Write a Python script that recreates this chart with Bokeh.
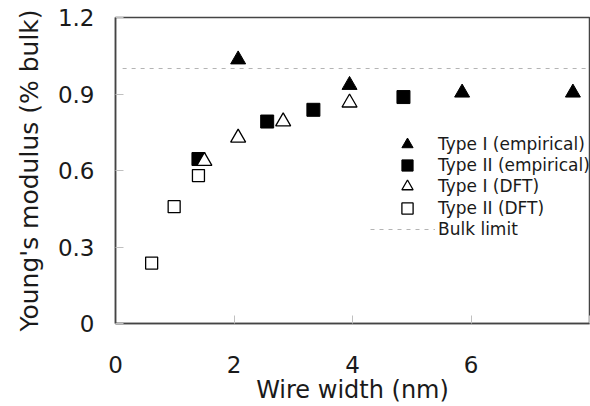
from bokeh.plotting import figure
from bokeh.models import Legend, LegendItem, Range1d, FixedTicker, Label
from bokeh.embed import file_html
from bokeh.resources import INLINE

# ---- data ----
type1_emp_x = [2.07, 3.95, 5.85, 7.72]
type1_emp_y = [1.035, 0.935, 0.905, 0.905]

type2_emp_x = [1.40, 2.56, 3.34, 4.86]
type2_emp_y = [0.645, 0.792, 0.838, 0.888]

type1_dft_x = [1.50, 2.07, 2.83, 3.95]
type1_dft_y = [0.637, 0.728, 0.792, 0.866]

type2_dft_x = [0.61, 0.99, 1.40]
type2_dft_y = [0.237, 0.458, 0.580]

bulk_limit = 1.0

x_ticks = [0, 2, 4, 6, 8]
y_ticks = [0, 0.3, 0.6, 0.9, 1.2]
y_tick_labels = {0: "0", 0.3: "0.3", 0.6: "0.6", 0.9: "0.9", 1.2: "1.2"}
X_MIN, X_MAX = 0, 8
Y_MIN, Y_MAX = 0, 1.2

FONT = "DejaVu Sans"
TEXT_COLOR = "#1a1a1a"
TICK_FONT_SIZE = "23px"
X_LABEL_STANDOFF = 32

p = figure(width=590, height=406, output_backend="svg", toolbar_location=None,
           x_range=Range1d(X_MIN, X_MAX), y_range=Range1d(Y_MIN, Y_MAX),
           min_border_left=115, min_border_right=1, min_border_top=17, min_border_bottom=81)

p.xgrid.visible = False
p.ygrid.visible = False
p.outline_line_color = "#444444"
p.outline_line_width = 1.5
p.background_fill_color = "white"
p.border_fill_color = "white"

bulk = p.line(x=[X_MIN + 0.12, X_MAX], y=[bulk_limit, bulk_limit], line_color="#b4b4b4",
              line_width=1, line_dash="4 5")

r1 = p.scatter(type1_emp_x, type1_emp_y, marker="triangle", size=15,
               fill_color="black", line_color="black")
r2 = p.scatter(type2_emp_x, type2_emp_y, marker="square", size=13,
               fill_color="black", line_color="black")
r3 = p.scatter(type1_dft_x, type1_dft_y, marker="triangle", size=15,
               fill_color="white", line_color="black", line_width=1.3)
r4 = p.scatter(type2_dft_x, type2_dft_y, marker="square", size=12,
               fill_color="white", line_color="black", line_width=1.3)

for ax in (p.xaxis[0], p.yaxis[0]):
    ax.axis_line_color = "#444444"
    ax.axis_line_width = 1.5
    ax.major_tick_in = 8
    ax.major_tick_out = 0
    ax.major_tick_line_color = "#c0c0c0"
    ax.minor_tick_line_color = None
    ax.major_label_text_font = FONT
    ax.major_label_text_font_size = TICK_FONT_SIZE
    ax.major_label_text_color = TEXT_COLOR
    ax.axis_label_text_font = FONT
    ax.axis_label_text_font_style = "normal"
    ax.axis_label_text_color = TEXT_COLOR

p.xaxis.axis_label_text_font_size = "24px"
p.yaxis.axis_label_text_font_size = "25px"
p.xaxis.ticker = FixedTicker(ticks=x_ticks)
p.yaxis.ticker = FixedTicker(ticks=y_ticks)
p.yaxis.major_label_overrides = y_tick_labels
# the last x tick label sits on the right edge (cut by the window, as in the reference);
# draw it as a free label so the layout does not shrink the frame for its overhang
p.xaxis.major_label_overrides = {x_ticks[-1]: ""}
p.add_layout(Label(x=x_ticks[-1], y=Y_MIN, x_units="data", y_units="data",
                   text=str(x_ticks[-1]), text_align="center", text_baseline="top",
                   y_offset=-X_LABEL_STANDOFF, text_font=FONT,
                   text_font_size=TICK_FONT_SIZE, text_color=TEXT_COLOR))
p.xaxis.axis_label = "Wire width (nm)"
p.yaxis.axis_label = "Young's modulus (% bulk)"
p.xaxis.major_label_standoff = X_LABEL_STANDOFF
p.xaxis.axis_label_standoff = 0
p.yaxis.major_label_standoff = 21
p.yaxis.axis_label_standoff = 11

# one legend per row, so rows can be tighter than the marker boxes
legend_rows = [
    ("Type I (empirical)", r1, 56, 379, 146),
    ("Type II (empirical)", r2, 56, 379, 167),
    ("Type I (DFT)", r3, 56, 379, 188),
    ("Type II (DFT)", r4, 56, 379, 210),
    ("Bulk limit", bulk, 65, 370, 231),
]
FRAME_LEFT, FRAME_BOTTOM, BOX_H = 115, 325, 28
for label, rend, gw, left, cy in legend_rows:
    lg = Legend(items=[LegendItem(label=label, renderers=[rend])],
                location=(left - FRAME_LEFT, FRAME_BOTTOM - cy - BOX_H / 2))
    lg.glyph_width = gw
    lg.glyph_height = BOX_H
    lg.label_height = BOX_H
    lg.padding = 0
    lg.margin = 0
    lg.label_standoff = 3
    lg.border_line_alpha = 0
    lg.background_fill_alpha = 0
    lg.label_text_font = FONT
    lg.label_text_font_size = "17px"
    lg.label_text_color = TEXT_COLOR
    p.add_layout(lg, "center")

open("out.html", "w").write(file_html(p, INLINE))
